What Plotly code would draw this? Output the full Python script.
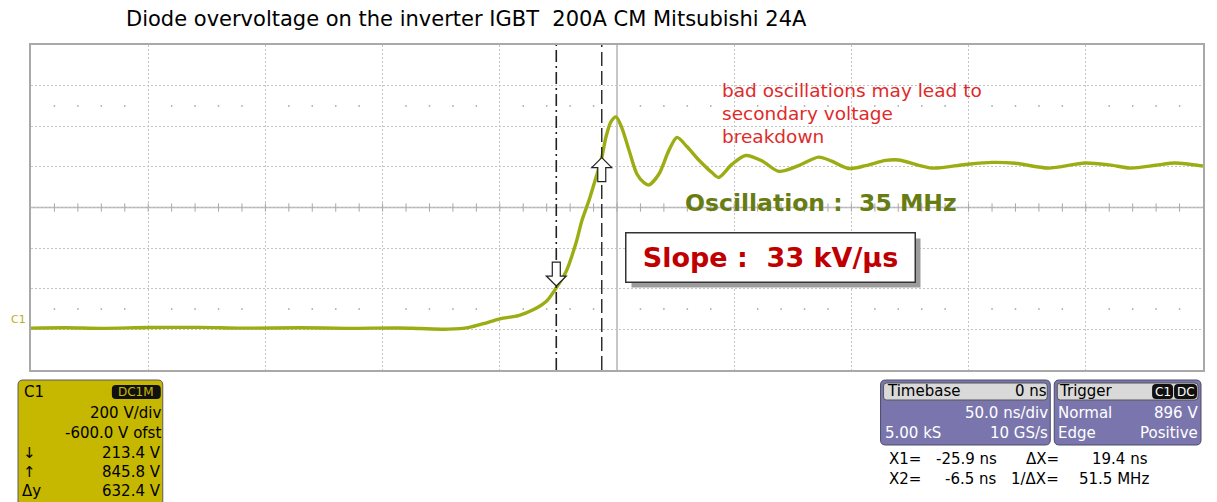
import plotly.graph_objects as go

# scope settings
ns_per_div = 50
v_per_div = 200
v_offset = -600
trigger_level = 896
x_cursors = [-25.9, -6.5]
y_cursors = [213.4, 845.8]

# trace (ns, V)
t_ns = [-250, -235, -220, -200, -178, -160, -135, -115, -93, -84,
        -72, -63, -57, -50, -42, -36, -30, -25.9, -21.7, -17.5,
        -14.9, -11.9, -8.9, -6.5, -4.7, -2.6, -0.4, 2.1, 5.1, 8.5,
        11.5, 13.6, 17.9, 22.1, 25.6, 29.8, 34.9, 40.5, 43.4, 49.0,
        54.9, 61.8, 69.0, 77.5, 86.0, 91.6, 98.8, 106.1, 114.6, 120.1,
        134.2, 148.6, 160, 169.9, 184.0, 199.7, 210, 219.3, 230, 238.1, 250]
v_volts = [6, 8, 5, 9, 10, 6, 8, 5, 7, 4,
           1, 10, 28, 52, 68, 95, 140, 205, 285, 425,
           538, 637, 750, 846, 947, 1021, 1046, 991, 883, 765,
           722, 711, 765, 880, 945, 900, 834, 772, 748, 812,
           856, 830, 778, 806, 848, 828, 792, 806, 832, 834,
           794, 812, 822, 818, 794, 819, 810, 794, 808, 819, 804]

W, H = 1209, 494
OX, OY = 8, 8          # page margin of the html body
L, R, T, B = 23, 12, 37, 132
PW, PH = W - L - R, H - T - B

FONT = "DejaVu Sans, Verdana, sans-serif"
TRACE = "#9cad14"
GRID = "#c4c4c4"


def px(x):
    return (x - OX - L) / PW


def py(y):
    return (H - B - (y - OY)) / PH


def rrect(x0, y0, x1, y1, r):
    pts = [("M", x0 + r, y0), ("L", x1 - r, y0), ("Q", x1, y0, x1, y0 + r),
           ("L", x1, y1 - r), ("Q", x1, y1, x1 - r, y1), ("L", x0 + r, y1),
           ("Q", x0, y1, x0, y1 - r), ("L", x0, y0 + r), ("Q", x0, y0, x0 + r, y0)]
    s = ""
    for p in pts:
        vals = p[1:]
        coords = [f"{px(vals[i]):.5f},{py(vals[i+1]):.5f}" for i in range(0, len(vals), 2)]
        s += p[0] + " " + " ".join(coords) + " "
    return s + "Z"


x_range = [-5 * ns_per_div, 5 * ns_per_div]
y_center = -v_offset
y_range = [y_center - 4 * v_per_div, y_center + 4 * v_per_div]

fig = go.Figure()

# centre cross tick marks and dot rows
minor = [x_range[0] + i * ns_per_div / 5 for i in range(1, 50)]
fig.add_trace(go.Scatter(x=minor, y=[y_center] * len(minor), mode="markers",
                         marker=dict(symbol="line-ns", size=6, line=dict(color="#a8a8a8", width=1)),
                         hoverinfo="skip", showlegend=False))
dots = [m for m in minor if abs(m / ns_per_div - round(m / ns_per_div)) > 1e-6]
for yy in [y_center - 2.5 * v_per_div, y_center + 2.5 * v_per_div]:
    fig.add_trace(go.Scatter(x=dots, y=[yy] * len(dots), mode="markers",
                             marker=dict(symbol="square", size=1.5, color="#a0a0a0"),
                             hoverinfo="skip", showlegend=False))

fig.add_trace(go.Scatter(x=t_ns, y=v_volts, mode="lines",
                         line=dict(color=TRACE, width=3.4, shape="spline", smoothing=0.8),
                         hoverinfo="skip", showlegend=False))

shapes = []
# centre lines
shapes.append(dict(type="line", xref="x", yref="paper", x0=0, x1=0, y0=0, y1=1,
                   line=dict(color="#b4b4b4", width=1.5), layer="below"))
shapes.append(dict(type="line", xref="paper", yref="y", x0=0, x1=1, y0=y_center, y1=y_center,
                   line=dict(color="#b4b4b4", width=1.5), layer="below"))
# cursors
shapes.append(dict(type="line", xref="x", yref="paper", x0=x_cursors[0], x1=x_cursors[0], y0=0, y1=1,
                   line=dict(color="#222222", width=1.6, dash="12px,4px,2px,4px")))
shapes.append(dict(type="line", xref="x", yref="paper", x0=x_cursors[1], x1=x_cursors[1], y0=0, y1=1,
                   line=dict(color="#222222", width=1.4, dash="14px,5px")))
# hollow cursor arrows (pixel sized, anchored at the cursor points)
shapes.append(dict(type="path", xref="x", yref="y", xsizemode="pixel", ysizemode="pixel",
                   xanchor=x_cursors[0], yanchor=y_cursors[0],
                   path="M 0,0 L -10,10 L -4,10 L -4,24 L 4,24 L 4,10 L 10,10 Z",
                   fillcolor="white", line=dict(color="#222222", width=1.2)))
shapes.append(dict(type="path", xref="x", yref="y", xsizemode="pixel", ysizemode="pixel",
                   xanchor=x_cursors[1], yanchor=y_cursors[1],
                   path="M 0,0 L -10,-10 L -4,-10 L -4,-24 L 4,-24 L 4,-10 L 10,-10 Z",
                   fillcolor="white", line=dict(color="#222222", width=1.2)))
# trigger position marker and trigger level marker
shapes.append(dict(type="path", xref="x", yref="y", xsizemode="pixel", ysizemode="pixel",
                   xanchor=0, yanchor=y_range[0],
                   path="M 0,-3 L -6,-14 L 6,-14 Z", fillcolor=TRACE, line=dict(width=0)))
shapes.append(dict(type="path", xref="x", yref="y", xsizemode="pixel", ysizemode="pixel",
                   xanchor=x_range[1], yanchor=trigger_level,
                   path="M 2,0 L 9,6 L 14,6 L 14,-6 L 9,-6 Z", fillcolor=TRACE, line=dict(width=0)))
# ground marker
shapes.append(dict(type="line", xref="x", yref="y", xsizemode="pixel",
                   xanchor=x_range[0], x0=-17, x1=0, y0=0, y1=0,
                   line=dict(color=TRACE, width=3)))

# info panels
shapes.append(dict(type="path", xref="paper", yref="paper", path=rrect(18, 380, 163, 512, 5),
                   fillcolor="#c6b700", line=dict(color="#5a5a5a", width=1)))
shapes.append(dict(type="path", xref="paper", yref="paper", path=rrect(112, 385, 161, 399, 4),
                   fillcolor="#111111", line=dict(width=0)))
shapes.append(dict(type="path", xref="paper", yref="paper", path=rrect(882, 380, 1052, 445, 5),
                   fillcolor="#7a76ad", line=dict(color="#4a4a6a", width=1)))
shapes.append(dict(type="path", xref="paper", yref="paper", path=rrect(885, 383, 1049, 400, 3),
                   fillcolor="#d9d9d9", line=dict(color="#555555", width=1)))
shapes.append(dict(type="path", xref="paper", yref="paper", path=rrect(1056, 380, 1203, 445, 5),
                   fillcolor="#7a76ad", line=dict(color="#4a4a6a", width=1)))
shapes.append(dict(type="path", xref="paper", yref="paper", path=rrect(1059, 383, 1200, 400, 3),
                   fillcolor="#d9d9d9", line=dict(color="#555555", width=1)))
shapes.append(dict(type="path", xref="paper", yref="paper", path=rrect(1154, 384, 1175, 399, 4),
                   fillcolor="#111111", line=dict(width=0)))
shapes.append(dict(type="path", xref="paper", yref="paper", path=rrect(1176, 384, 1199, 399, 4),
                   fillcolor="#111111", line=dict(width=0)))

ann = []


def text(x, y, s, size=15, color="black", anchor="left", bold=False):
    ann.append(dict(xref="paper", yref="paper", x=px(x), y=py(y), text=f"<b>{s}</b>" if bold else s,
                    showarrow=False, xanchor=anchor, yanchor="middle",
                    font=dict(family=FONT, size=size, color=color)))


text(124, 19, "Diode overvoltage on the inverter IGBT&nbsp;&nbsp;200A CM Mitsubishi 24A", size=21)
red_lines = ["bad oscillations may lead to", "secondary voltage", "breakdown"]
for i, line in enumerate(red_lines):
    text(721, 91 + i * 22.5, line, size=18.5, color="#e02a2a")
text(684, 203, "Oscillation :&nbsp;&nbsp;35 MHz", size=23.5, color="#687c14", bold=True)
slope_txt = "<b>Slope :&nbsp;&nbsp;33 kV/µs</b>"
ann.append(dict(xref="paper", yref="paper", x=px(772), y=py(257.5), text=slope_txt, showarrow=False,
                xshift=5, yshift=-5, width=286, height=46, bgcolor="#9c9c9c", borderpad=1,
                font=dict(family=FONT, size=27, color="#9c9c9c")))
ann.append(dict(xref="paper", yref="paper", x=px(772), y=py(257.5), text=slope_txt, showarrow=False,
                width=286, height=46, bgcolor="white", bordercolor="#333333", borderwidth=1.5, borderpad=1,
                font=dict(family=FONT, size=27, color="#c00000")))

# ground label
ann.append(dict(xref="x", yref="y", x=x_range[0], y=0, text="C1", showarrow=False,
                xanchor="right", yanchor="bottom", xshift=-3, yshift=1,
                font=dict(family=FONT, size=11, color="#b8b020")))

# C1 panel
text(22, 392, "C1", size=15)
text(136.5, 392, "DC1M", size=12, color="#c6b700", anchor="center")
text(163, 413, "200 V/div", anchor="right")
text(163, 433, "-600.0 V ofst", anchor="right")
text(163, 453, f"{y_cursors[0]:.1f} V", anchor="right")
text(163, 472, f"{y_cursors[1]:.1f} V", anchor="right")
text(163, 491, f"{y_cursors[1] - y_cursors[0]:.1f} V", anchor="right")
text(21, 453, "↓")
text(21, 472, "↑")
text(20, 491, "Δy")

# timebase / trigger panels
text(886, 391, "Timebase")
text(1051, 391, "0 ns", anchor="right")
text(1052, 413, f"{ns_per_div:.1f} ns/div", color="white", anchor="right")
text(884, 433, "5.00 kS", color="white")
text(1052, 433, "10 GS/s", color="white", anchor="right")
text(1059, 391, "Trigger")
text(1164.5, 391.5, "C1", size=12, color="white", anchor="center")
text(1187.5, 391.5, "DC", size=12, color="white", anchor="center")
text(1058, 413, "Normal", color="white")
text(1202, 413, f"{trigger_level} V", color="white", anchor="right")
text(1058, 433, "Edge", color="white")
text(1202, 433, "Positive", color="white", anchor="right")

# cursor readout
dx = x_cursors[1] - x_cursors[0]
text(888, 459, "X1=")
text(1001, 459, f"{x_cursors[0]:.1f} ns", anchor="right")
text(1063, 459, "ΔX=", anchor="right")
text(1152, 459, f"{dx:.1f} ns", anchor="right")
text(888, 479, "X2=")
text(1001, 479, f"{x_cursors[1]:.1f} ns", anchor="right")
text(1063, 479, "1/ΔX=", anchor="right")
text(1153, 479, f"{1000 / dx:.1f} MHz", anchor="right")

fig.update_layout(
    width=W, height=H,
    margin=dict(l=L, r=R, t=T, b=B),
    paper_bgcolor="white", plot_bgcolor="white",
    shapes=shapes, annotations=ann,
    xaxis=dict(range=x_range, dtick=ns_per_div, tick0=0, showticklabels=False, ticks="",
               showgrid=True, gridcolor=GRID, griddash="2px,2px", gridwidth=1, zeroline=False,
               showline=True, mirror=True, linecolor="#a9a9a9", linewidth=2),
    yaxis=dict(range=y_range, dtick=v_per_div, tick0=0, showticklabels=False, ticks="",
               showgrid=True, gridcolor=GRID, griddash="2px,2px", gridwidth=1, zeroline=False,
               showline=True, mirror=True, linecolor="#a9a9a9", linewidth=2),
)

fig.write_html("out.html")
